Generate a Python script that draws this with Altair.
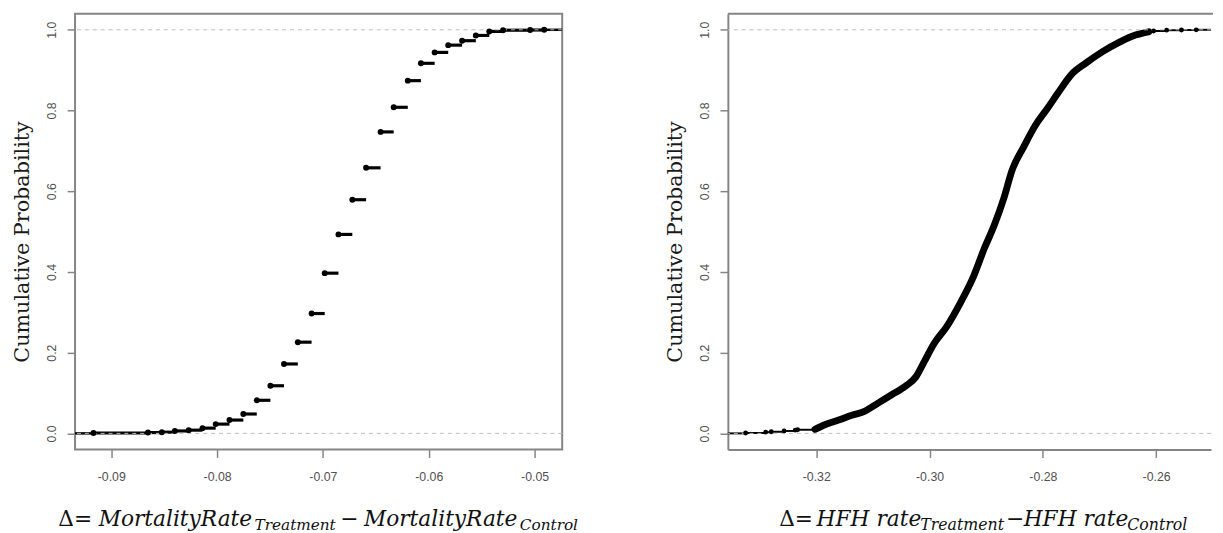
import altair as alt
import pandas as pd

# ---------------- data ----------------
# Left panel: empirical CDF of  Δ = MortalityRate(Treatment) - MortalityRate(Control)
mort_x = [-0.09168, -0.08653, -0.08522, -0.08399, -0.08268, -0.08138, -0.08013, -0.07883,
          -0.07752, -0.07625, -0.07496, -0.07368, -0.07237, -0.07107, -0.06983, -0.06853,
          -0.06722, -0.06592, -0.06455, -0.06331, -0.06198, -0.06074, -0.05944, -0.05816,
          -0.05685, -0.05555, -0.05428, -0.05298, -0.05042, -0.04909]
mort_y = [0.001, 0.002, 0.003, 0.006, 0.008, 0.013, 0.023, 0.033, 0.048, 0.082, 0.118, 0.172,
          0.226, 0.297, 0.397, 0.493, 0.579, 0.658, 0.747, 0.808, 0.874, 0.917, 0.944, 0.962,
          0.973, 0.986, 0.996, 0.999, 0.9995, 1.0]

# Right panel: empirical CDF of  Δ = HFH rate(Treatment) - HFH rate(Control)
hfh_lo_x = [-0.33246, -0.32893, -0.32794, -0.32567, -0.32371, -0.32329]
hfh_lo_y = [0.001, 0.003, 0.004, 0.006, 0.008, 0.009]
hfh_curve_x = [-0.32023, -0.31836, -0.31605, -0.31372, -0.31140, -0.30909, -0.30676, -0.30415,
               -0.30241, -0.30096, -0.29922, -0.29691, -0.29458, -0.29227, -0.29034, -0.28860,
               -0.28686, -0.28541, -0.28338, -0.28134, -0.27930, -0.27730, -0.27497, -0.27236,
               -0.26946, -0.26655, -0.26366, -0.26133]
hfh_curve_y = [0.010, 0.022, 0.033, 0.045, 0.055, 0.075, 0.095, 0.118,
               0.140, 0.177, 0.222, 0.266, 0.323, 0.388, 0.458, 0.515,
               0.584, 0.653, 0.710, 0.763, 0.803, 0.844, 0.889, 0.918,
               0.946, 0.969, 0.987, 0.995]
hfh_hi_x = [-0.26046, -0.25815, -0.25554, -0.25293]
hfh_hi_y = [0.997, 0.999, 0.9995, 1.0]

ref_lines = [0.0, 1.0]

left_ticks = [-0.09, -0.08, -0.07, -0.06, -0.05]
right_ticks = [-0.32, -0.30, -0.28, -0.26]
y_ticks = [0.0, 0.2, 0.4, 0.6, 0.8, 1.0]
y_title = "Cumulative Probability"

left_title = ["Δ=", "MortalityRate", "Treatment", "−", "MortalityRate", "Control"]
right_title = ["Δ=", "HFH rate", "Treatment", "−", "HFH rate", "Control"]

# ---------------- styling ----------------
L_W, R_W, H = 494, 490, 442
L_DOM = [-0.09342, -0.04739]
R_DOM = [-0.3356, -0.25031]
Y_DOM = [-0.04, 1.04]
BOX = "#858585"
LAB = "#505050"
SERIF = "DejaVu Serif"
SANS = "Liberation Sans"


def x_axis(vals, show_domain):
    return alt.Axis(values=vals, labelExpr="'-' + format(abs(datum.value), '.2f')",
                    labelFont=SANS, labelFontSize=12.5, labelColor=LAB, labelPadding=13,
                    tickSize=8, tickColor=BOX, tickWidth=1.5, grid=False, title=None,
                    domain=show_domain, domainColor=BOX, domainWidth=2)


def y_axis(show_domain):
    return alt.Axis(values=y_ticks, format=".1f", labelAngle=270, labelAlign="center",
                    labelBaseline="alphabetic", labelPadding=12, labelFont=SANS,
                    labelFontSize=12.5, labelColor=LAB, tickSize=8, tickColor=BOX,
                    tickWidth=1.5, grid=False, domain=show_domain, domainColor=BOX,
                    domainWidth=2, title=y_title, titleFont=SERIF, titleFontSize=21,
                    titleFontWeight="normal", titleColor="#1a1a1a", titleAngle=270,
                    titleAlign="center", titleBaseline="middle", titleX=-53, titleY=231)


def piece(s, x, y, size, italic=True):
    return alt.Chart(pd.DataFrame({"t": [s]})).mark_text(
        align="left", baseline="alphabetic", font=SERIF, fontSize=size,
        fontStyle="italic" if italic else "normal", color="#111111"
    ).encode(x=alt.value(x), y=alt.value(y), text="t:N")


def ecdf_steps(xs, ys):
    return pd.DataFrame({"x": xs[:-1], "x2": xs[1:], "y": ys[:-1]})


# ---------------- left panel ----------------
lx = alt.X("x:Q", scale=alt.Scale(domain=L_DOM, nice=False, zero=False),
           axis=x_axis(left_ticks, False))
ly = alt.Y("y:Q", scale=alt.Scale(domain=Y_DOM, nice=False, zero=False), axis=y_axis(False))

l_pts = pd.DataFrame({"x": mort_x, "y": mort_y})
l_seg = alt.Chart(ecdf_steps(mort_x, mort_y)).mark_rule(color="black", strokeWidth=3.2).encode(
    x=lx, x2="x2:Q", y=ly)
l_first = alt.Chart(pd.DataFrame({"x": [mort_x[0]], "y": [ref_lines[0]]})).mark_rule(
    color="black", strokeWidth=2.5).encode(x="x:Q", x2=alt.value(0), y="y:Q")
l_last = alt.Chart(pd.DataFrame({"x": [mort_x[-1]], "y": [mort_y[-1]]})).mark_rule(
    color="black", strokeWidth=2.5).encode(x="x:Q", x2=alt.value(L_W), y="y:Q")
l_dash = alt.Chart(pd.DataFrame({"y": ref_lines})).mark_rule(
    color="#bdbdbd", strokeWidth=1, strokeDash=[4, 4]).encode(y="y:Q")
l_dots = alt.Chart(l_pts).mark_circle(color="black", size=36, opacity=1).encode(x="x:Q", y="y:Q")

lt = [
    piece(left_title[0], -17, 520, 22, italic=False),
    piece(left_title[1], 24, 520, 22),
    piece(left_title[2], 182, 524, 15.5),
    piece(left_title[3], 269, 520, 22, italic=False),
    piece(left_title[4], 293, 520, 22),
    piece(left_title[5], 451, 524, 15.5),
]

left = alt.layer(l_seg, l_first, l_last, l_dash, l_dots, *lt,
                 view=alt.ViewBackground(stroke=BOX, strokeWidth=2)).properties(width=L_W, height=H)

# ---------------- right panel ----------------
rx = alt.X("x:Q", scale=alt.Scale(domain=R_DOM, nice=False, zero=False),
           axis=x_axis(right_ticks, True))
ry = alt.Y("y:Q", scale=alt.Scale(domain=Y_DOM, nice=False, zero=False), axis=y_axis(True))

lo_steps = ecdf_steps(hfh_lo_x + hfh_curve_x[:1], hfh_lo_y + hfh_curve_y[:1])
hi_steps = ecdf_steps(hfh_curve_x[-1:] + hfh_hi_x, hfh_curve_y[-1:] + hfh_hi_y)
r_steps = alt.Chart(pd.concat([lo_steps, hi_steps], ignore_index=True)).mark_rule(
    color="black", strokeWidth=2).encode(x=rx, x2="x2:Q", y=ry)
r_curve = alt.Chart(pd.DataFrame({"x": hfh_curve_x, "y": hfh_curve_y})).mark_line(
    color="black", strokeWidth=7, strokeCap="round", strokeJoin="round",
    interpolate="monotone").encode(x="x:Q", y="y:Q")
r_first = alt.Chart(pd.DataFrame({"x": [hfh_lo_x[0]], "y": [ref_lines[0]]})).mark_rule(
    color="black", strokeWidth=2).encode(x="x:Q", x2=alt.value(0), y="y:Q")
r_last = alt.Chart(pd.DataFrame({"x": [hfh_hi_x[-1]], "y": [hfh_hi_y[-1]]})).mark_rule(
    color="black", strokeWidth=2).encode(x="x:Q", x2=alt.value(R_W), y="y:Q")
r_dash = alt.Chart(pd.DataFrame({"y": ref_lines})).mark_rule(
    color="#bdbdbd", strokeWidth=1, strokeDash=[4, 4]).encode(y="y:Q")
r_dots = alt.Chart(pd.DataFrame({"x": hfh_lo_x + hfh_hi_x, "y": hfh_lo_y + hfh_hi_y})).mark_circle(
    color="black", size=24, opacity=1).encode(x="x:Q", y="y:Q")
r_top = alt.Chart(pd.DataFrame({"t": [0]})).mark_rule(color=BOX, strokeWidth=2).encode(
    x=alt.value(0), x2=alt.value(R_W + 2), y=alt.value(0))

rt = [
    piece(right_title[0], 52, 520, 22, italic=False),
    piece(right_title[1], 90, 520, 22),
    piece(right_title[2], 195, 524, 16),
    piece(right_title[3], 282, 520, 22, italic=False),
    piece(right_title[4], 300, 520, 22),
    piece(right_title[5], 405, 524, 16),
]

right = alt.layer(r_steps, r_curve, r_first, r_last, r_dash, r_dots, r_top, *rt,
                  view=alt.ViewBackground(stroke="transparent")).properties(width=R_W, height=H)

chart = alt.hconcat(left, right, spacing=168, bounds="flush").properties(
    padding={"left": 3, "top": 0, "right": 0, "bottom": 0}
).configure_view(stroke="transparent")

chart.save("out.html", embed_options={"renderer": "svg", "actions": False})
